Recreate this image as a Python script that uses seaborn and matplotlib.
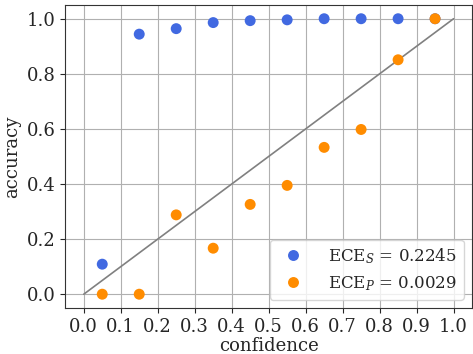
import numpy as np
import pandas as pd
import matplotlib
matplotlib.use("Agg")
import matplotlib.pyplot as plt
import seaborn as sns

# -------------------------------
# Data
# -------------------------------
bins = [0.05, 0.15, 0.25, 0.35, 0.45, 0.55, 0.65, 0.75, 0.85, 0.95]
acc_s = [0.109, 0.944, 0.964, 0.986, 0.993, 0.996, 1.0, 1.0, 1.0, 1.0]
acc_p = [0.0, 0.0, 0.288, 0.167, 0.326, 0.395, 0.533, 0.598, 0.851, 1.0]
labels = [r"ECE$_S$ = 0.2245", r"ECE$_P$ = 0.0029"]
colors = ["royalblue", "darkorange"]

df = pd.DataFrame({
    "confidence": bins * 2,
    "accuracy": acc_s + acc_p,
    "model": [labels[0]] * len(bins) + [labels[1]] * len(bins),
})

# -------------------------------
# Style
# -------------------------------
sns.set_style("ticks")
plt.rcParams["font.family"] = "DejaVu Serif"
plt.rcParams["mathtext.fontset"] = "dejavuserif"
plt.rcParams["font.size"] = 13

fig, ax = plt.subplots(figsize=(4.73, 3.54), dpi=100)
ax.grid(True, color="#b0b0b0", linewidth=0.8)
ax.set_axisbelow(True)

# reliability diagram: diagonal + per-bin accuracy
ax.plot([0, 1], [0, 1], color="gray", linewidth=1.2, zorder=2)
sns.scatterplot(data=df, x="confidence", y="accuracy", hue="model",
                palette=colors, s=62, edgecolor="none", ax=ax, zorder=3)

ax.set_xticks(np.linspace(0, 1, 11))
ax.set_yticks(np.linspace(0, 1, 6))
ax.set_xlim(-0.05, 1.05)
ax.set_ylim(-0.05, 1.05)
ax.tick_params(labelsize=13)
ax.set_xlabel("confidence", fontsize=13, labelpad=1)
ax.set_ylabel("accuracy", fontsize=13)
for sp in ax.spines.values():
    sp.set_color("#333333")

ax.legend(loc="lower right", fontsize=12, title=None,
          handletextpad=1.1, borderpad=0.4, labelspacing=0.5)

plt.subplots_adjust(left=0.138, right=0.998, top=0.986, bottom=0.13)
plt.savefig("out.png", dpi=100)
